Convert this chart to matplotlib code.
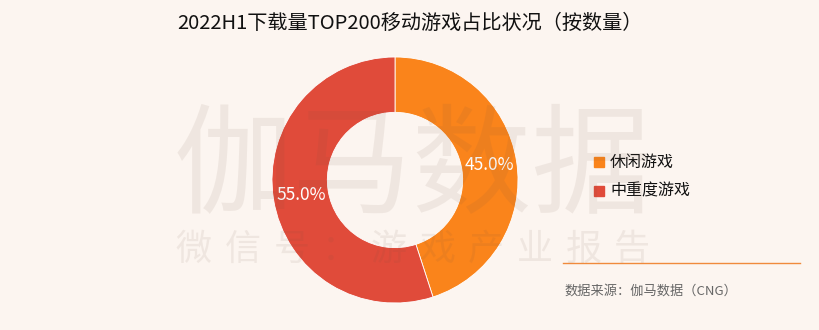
import matplotlib.pyplot as plt

plt.rcParams['font.family'] = ['Noto Sans CJK SC', 'DejaVu Sans']

# share of TOP200 downloaded mobile games, 2022H1
categories = ["休闲游戏", "中重度游戏"]
shares = [45.0, 55.0]
colors = ["#FA841B", "#E04B3A"]

title = "2022H1下载量TOP200移动游戏占比状况（按数量）"
source = "数据来源：伽马数据（CNG）"
mark_main = "伽马数据"
mark_sub = "微信号：游戏产业报告"

W, H = 820, 330
bg = "#FCF5F0"

fig = plt.figure(figsize=(W / 100, H / 100), dpi=100)
fig.patch.set_facecolor(bg)


def fx(px):
    return px / W


def fy(py):
    return 1 - py / H


# donut, centred at (395, 180) px with radius 123 px
cx, cy, r = 395, 180, 123
ax = fig.add_axes([fx(cx - r), fy(cy + r), 2 * r / W, 2 * r / H])
ax.set_facecolor(bg)
wedges, texts, autotexts = ax.pie(
    shares, colors=colors, startangle=90, counterclock=False,
    radius=1.0, wedgeprops=dict(width=0.45, edgecolor="white", linewidth=0.6),
    autopct="%.1f%%", pctdistance=0.775,
    textprops=dict(color="white", fontsize=12.5),
)
ax.set_xlim(-1, 1)
ax.set_ylim(-1, 1)
ax.axis("off")

fig.text(0.5, fy(23), title, ha="center", va="center", fontsize=14.5,
         color="#111111", fontweight="medium")

# legend
for i, (lab, col) in enumerate(zip(categories, colors)):
    y = 162 + i * 29
    fig.patches.append(plt.Rectangle((fx(594), fy(y + 5)), 10 / W, 10 / H,
                                     transform=fig.transFigure, color=col))
    fig.text(fx(610), fy(y), lab, ha="left", va="center", fontsize=11.5,
             color="#111111")

# source line and note
fig.add_artist(plt.Line2D([fx(563), fx(800)], [fy(263), fy(263)],
                          color="#F08A3C", linewidth=1.0))
fig.text(fx(564), fy(291), source, ha="left", va="center", fontsize=9.5,
         color="#666666")

# watermark drawn on top of everything
wm = (0.45, 0.33, 0.27)
fig.text(fx(413), fy(170), mark_main, ha="center", va="center", fontsize=86,
         color=wm, alpha=0.09, zorder=10)
for i, ch in enumerate(mark_sub):
    fig.text(fx(194 + i * 48.7), fy(250), ch, ha="center", va="center",
             fontsize=26, color=wm, alpha=0.09, zorder=10)

fig.savefig("out.png", dpi=100, facecolor=bg)
